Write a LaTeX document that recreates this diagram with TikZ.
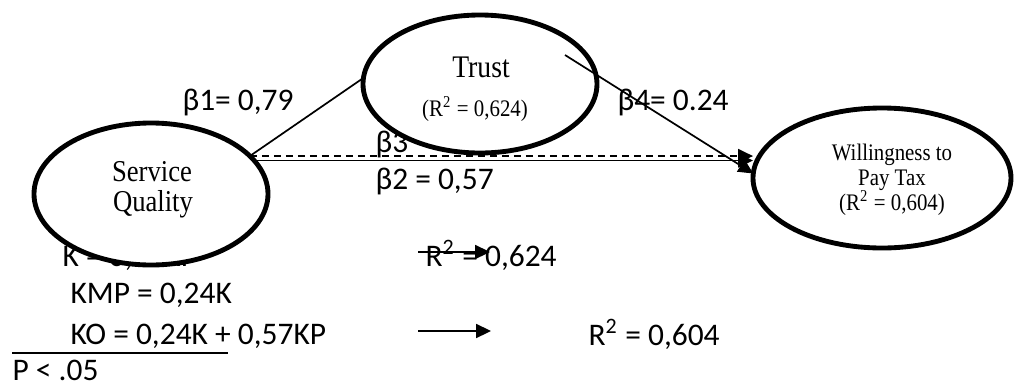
\documentclass[tikz,border=0pt]{standalone}
\usepackage{fontspec}
\setmainfont[FakeStretch=0.88]{Liberation Serif}
\newfontfamily\calibri{Carlito}
\usetikzlibrary{arrows.meta,shapes.geometric}

\begin{document}
\begin{tikzpicture}[
	x=0.35pt,
	y=-0.35pt,
	>={Triangle[length=5.2pt,width=4.9pt]},
	latent/.style={ellipse, draw, line width=1.7pt, fill=white, inner sep=0pt, outer sep=0pt},
	coef/.style={font=\calibri\fontsize{11}{13}\selectfont, inner sep=0pt, anchor=base west},
	inlbl/.style={inner sep=0pt, anchor=base},
	thinline/.style={line width=0.6pt}
	]
	
	\useasboundingbox (0,0) rectangle (1017,385);
	
	% coefficients and equations
	\node[coef] (b1) at (182,110) {β1= 0,79};
	\node[coef] (b3) at (375,152) {β3};
	\node[coef] (b2) at (375,189) {β2 = 0,57};
	\node[coef] (b4) at (617,110) {β4= 0.24};
	\node[coef] (eqk) at (62,266) {K = 0,79KP};
	\node[coef] (eqkmp) at (70,303) {KMP = 0,24K};
	\node[coef] (eqko) at (70,344) {KO = 0,24K + 0,57KP};
	\node[coef] (sig) at (12,380) {P < .05};
	\node[coef] (rtrust) at (425,266) {R\textsuperscript{2} = 0,624};
	\node[coef] (rwtp) at (588,345) {R\textsuperscript{2} = 0,604};
	
	% constructs
	\node[latent, minimum width=81.9pt, minimum height=49.7pt] (sq) at (151,194) {};
	\node[latent, minimum width=81.9pt, minimum height=48.3pt] (trust) at (480,84) {};
	\node[latent, minimum width=90.3pt, minimum height=49pt] (wtp) at (882,178) {};
	
	\node[inlbl, font=\fontsize{10.6}{12}\selectfont] (sqa) at (152,181) {Service};
	\node[inlbl, font=\fontsize{10.6}{12}\selectfont] (sqb) at (153,211) {Quality};
	\node[inlbl, font=\fontsize{11}{13}\selectfont] (trusta) at (481,77) {Trust};
	\node[inlbl, font=\fontsize{8.3}{10}\selectfont] (trustb) at (475,116) {(R\textsuperscript{2} = 0,624)};
	\node[inlbl, font=\fontsize{8.3}{10}\selectfont] (wtpa) at (892,160) {Willingness to};
	\node[inlbl, font=\fontsize{8.3}{10}\selectfont] (wtpb) at (892,185) {Pay Tax};
	\node[inlbl, font=\fontsize{8.3}{10}\selectfont] (wtpc) at (892,210) {(R\textsuperscript{2} = 0,604)};
	
	% paths
	\draw[thinline] (sq.21) -- (trust.177);
	\draw[thinline, dash pattern=on 2.6pt off 1.6pt, ->] (sq.21) -- (sq.21 -| wtp.west);
	\draw[thinline, ->] (sq.18) -- (sq.18 -| wtp.west);
	\coordinate (b4s) at (565,55);
	\draw[thinline, ->] (b4s) -- (wtp.178);
	
	% arrows below
	\coordinate (arr1s) at (418,252);
	\coordinate (arr1e) at (490,252);
	\draw[thinline, ->] (arr1s) -- (arr1e);
	\coordinate (arr2s) at (418,331);
	\coordinate (arr2e) at (491,331);
	\draw[thinline, ->] (arr2s) -- (arr2e);
	
	\coordinate (rulel) at (12,353);
	\coordinate (ruler) at (228,353);
	\draw[line width=0.5pt] (rulel) -- (ruler);
	
\end{tikzpicture}
\end{document}
